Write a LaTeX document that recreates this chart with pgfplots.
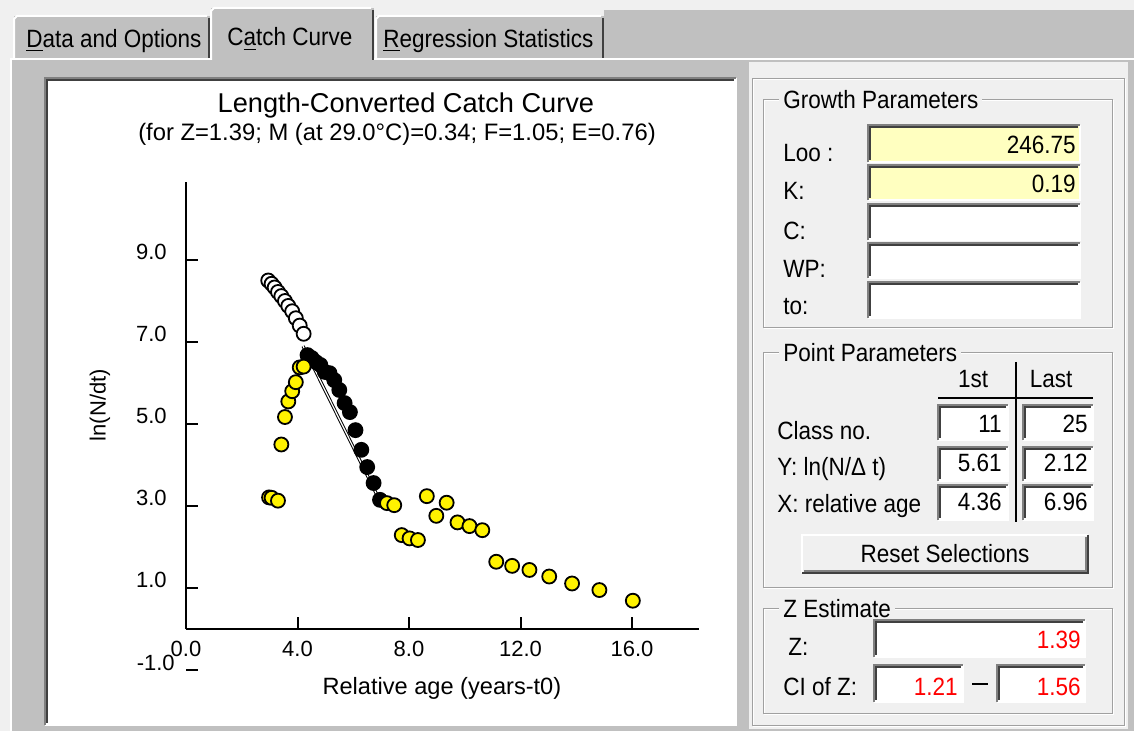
\documentclass[border=0pt]{standalone}
\usepackage{pgfplots}
\pgfplotsset{compat=1.18}
\usepackage{fontspec}
\setmainfont{Liberation Sans}
\newfontfamily\uifont[FakeStretch=0.9]{Liberation Sans}
\definecolor{wingray}{HTML}{C0C0C0}
\definecolor{winlight}{HTML}{F0F0F0}
\definecolor{fieldyellow}{HTML}{FFFFC0}
\definecolor{shadowgray}{HTML}{808080}
\definecolor{dkshadow}{HTML}{404040}
\definecolor{etchgray}{HTML}{A0A0A0}
\definecolor{winred}{HTML}{FF0000}
\newcommand\uif{\uifont\fontsize{12.5}{15}\selectfont}
\newcommand\cf{\fontsize{11}{13}\selectfont}
% sunken field: x1 y1 x2 y2 fill  (pixel units, y down)
\newcommand\sunken[5]{%
  \fill[#5] (#1,#2) rectangle (#3,#4);
  \draw[white,line width=1pt] (#1,#4) -- (#3,#4) -- (#3,#2);
  \draw[shadowgray,line width=1pt] (#1,#4) -- (#1,#2) -- (#3,#2);
  \draw[dkshadow,line width=1pt] ({#1+2},{#4-2}) -- ({#1+2},{#2+2}) -- ({#3-2},{#2+2});
}
\newcommand\raised[5]{%
  \fill[#5] (#1,#2) rectangle (#3,#4);
  \draw[white,line width=1pt] (#1,#4) -- (#1,#2) -- (#3,#2);
  \draw[dkshadow,line width=1pt] (#1,#4) -- (#3,#4) -- (#3,#2);
  \draw[shadowgray,line width=1pt] ({#1+2},{#4-2}) -- ({#3-2},{#4-2}) -- ({#3-2},{#2+2});
}
\newcommand\groupbox[5]{%
  \draw[white,line width=0.5pt] ({#1+1},{#2+1}) rectangle ({#3+1},{#4+1});
  \draw[etchgray,line width=0.5pt] (#1,#2) rectangle (#3,#4);
  \node[fill=winlight,inner xsep=2pt,inner ysep=1pt,anchor=base west,font=\uif] at ({#1+16},{#2+9}) {#5};
}
\begin{document}
\begin{tikzpicture}
\begin{scope}[x=0.5pt,y=-0.5pt]
\useasboundingbox (0,0) rectangle (1134,731);
\fill[winlight] (0,0) rectangle (1134,731);
\fill[wingray] (604,10) rectangle (1134,60);
\fill[wingray] (10,58) rectangle (1134,731);
% tabs
\fill[wingray] (14,16) rectangle (210,60);
\draw[white,line width=1pt] (14,59) -- (14,19) -- (17,16) -- (207,16);
\draw[dkshadow,line width=1pt] (209,18) -- (209,58);
\fill[wingray] (376,16) rectangle (604,60);
\draw[white,line width=1pt] (376,59) -- (376,19) -- (379,16) -- (601,16);
\draw[dkshadow,line width=1pt] (603,18) -- (603,58);
\fill[wingray] (211,8) rectangle (374,62);
\draw[white,line width=1pt] (211,60) -- (211,11) -- (214,8) -- (371,8);
\draw[dkshadow,line width=1pt] (373,10) -- (373,60);
\draw[white,line width=1pt] (11,731) -- (11,59) -- (211,59);
\draw[white,line width=1pt] (374,59) -- (1134,59);
\node[font=\uif,anchor=base west,inner sep=0pt] at (26,48) {\underline{D}ata and Options};
\node[font=\uif,anchor=base west,inner sep=0pt] at (227,46) {C\underline{a}tch Curve};
\node[font=\uif,anchor=base west,inner sep=0pt] at (383,48) {\underline{R}egression Statistics};
% chart panel
\sunken{45}{78}{736}{725}{white}
% right panel
\fill[winlight] (749,62) rectangle (1128,729);
\draw[white,line width=0.5pt] (753,80) rectangle (1125,726);
\draw[etchgray,line width=0.5pt] (752,79) rectangle (1124,725);
% Growth parameters
\groupbox{763}{100}{1112}{328}{Growth Parameters}
\node[font=\uif,anchor=base west,inner sep=0pt] at (783,162) {Loo :};
\node[font=\uif,anchor=base west,inner sep=0pt] at (783,200) {K:};
\node[font=\uif,anchor=base west,inner sep=0pt] at (783,240) {C:};
\node[font=\uif,anchor=base west,inner sep=0pt] at (783,278) {WP:};
\node[font=\uif,anchor=base west,inner sep=0pt] at (783,315) {to:};
\sunken{868}{125}{1080}{162}{fieldyellow}
\sunken{868}{165}{1080}{200}{fieldyellow}
\sunken{868}{204}{1080}{240}{white}
\sunken{868}{243}{1080}{278}{white}
\sunken{868}{282}{1080}{318}{white}
\node[font=\uif,anchor=base east,inner sep=0pt] at (1076,154) {246.75};
\node[font=\uif,anchor=base east,inner sep=0pt] at (1076,193) {0.19};
% Point parameters
\groupbox{763}{353}{1112}{587}{Point Parameters}
\node[font=\uif,anchor=base,inner sep=0pt] at (973,388) {1st};
\node[font=\uif,anchor=base,inner sep=0pt] at (1051,388) {Last};
\draw[black,line width=0.7pt] (938,398) -- (1093,398);
\draw[black,line width=0.7pt] (1016,362) -- (1016,522);
\node[font=\uif,anchor=base west,inner sep=0pt] at (777,440) {Class no.};
\node[font=\uif,anchor=base west,inner sep=0pt] at (777,476) {Y: ln(N/Δ t)};
\node[font=\uif,anchor=base west,inner sep=0pt] at (777,512) {X: relative age};
\sunken{938}{405}{1008}{440}{white}
\sunken{938}{447}{1008}{481}{white}
\sunken{938}{485}{1008}{520}{white}
\sunken{1023}{405}{1093}{440}{white}
\sunken{1023}{447}{1093}{481}{white}
\sunken{1023}{485}{1093}{520}{white}
\node[font=\uif,anchor=base east,inner sep=0pt] at (1002,433) {11};
\node[font=\uif,anchor=base east,inner sep=0pt] at (1002,472) {5.61};
\node[font=\uif,anchor=base east,inner sep=0pt] at (1002,510) {4.36};
\node[font=\uif,anchor=base east,inner sep=0pt] at (1088,433) {25};
\node[font=\uif,anchor=base east,inner sep=0pt] at (1088,472) {2.12};
\node[font=\uif,anchor=base east,inner sep=0pt] at (1088,510) {6.96};
\raised{802}{535}{1088}{573}{winlight}
\node[font=\uif,anchor=base,inner sep=0pt] at (945,562) {Reset Selections};
% Z estimate
\groupbox{763}{608}{1112}{713}{Z Estimate}
\node[font=\uif,anchor=base west,inner sep=0pt] at (788,655) {Z:};
\node[font=\uif,anchor=base west,inner sep=0pt] at (783,695) {CI of Z:};
\sunken{874}{620}{1085}{657}{white}
\sunken{874}{665}{963}{702}{white}
\sunken{997}{665}{1085}{702}{white}
\node[font=\uif,anchor=base east,inner sep=0pt,text=winred] at (1081,648) {1.39};
\node[font=\uif,anchor=base east,inner sep=0pt,text=winred] at (958,695) {1.21};
\node[font=\uif,anchor=base east,inner sep=0pt,text=winred] at (1081,695) {1.56};
\draw[black,line width=0.7pt] (972,684) -- (988,684);
\end{scope}
\begin{axis}[
  at={(93pt,-314.5pt)}, anchor=south west,
  x=13.9375pt, y=20.5pt,
  xmin=0, xmax=18.4, ymin=0, ymax=10.9,
  axis x line=bottom, axis y line=left,
  axis line style={-, line width=1.3pt, black},
  tick align=inside, major tick length=6pt,
  tick style={line width=1pt, black},
  xtick={0,4,8,12,16}, xticklabels={0.0,4.0,8.0,12.0,16.0},
  ytick={1,3,5,7,9}, yticklabels={1.0,3.0,5.0,7.0,9.0},
  tick label style={font=\cf},
  xticklabel style={anchor=north, inner sep=0pt, yshift=-6pt},
  yticklabel style={anchor=east, inner sep=0pt, xshift=-9.5pt, yshift=4pt},
  xlabel={Relative age (years-t0)},
  xlabel style={font=\fontsize{11.8}{14}\selectfont, at={(axis cs:9.18,-1.44)}, anchor=center, inner sep=0pt},
  ylabel={ln(N/dt)},
  ylabel style={font=\cf, at={(axis cs:-3.085,5.46)}, anchor=center, inner sep=0pt},
  clip=false,
]
\addplot[only marks, mark=*, mark size=3.5pt, mark options={fill=white, draw=black, line width=0.9pt}] coordinates {
(2.95,8.50) (3.07,8.42) (3.18,8.33) (3.30,8.22) (3.42,8.12) (3.55,8.00)
(3.67,7.88) (3.81,7.75) (3.94,7.58) (4.08,7.40) (4.22,7.20)};
\addplot[black, line width=0.5pt, double=white, double distance=0.6pt] coordinates {(4.20,6.90) (6.96,3.12)};
\addplot[only marks, mark=*, mark size=3.5pt, mark options={fill=black, draw=black, line width=0.9pt}] coordinates {
(4.36,6.68) (4.51,6.61) (4.66,6.51) (4.82,6.44) (4.98,6.27) (5.15,6.24)
(5.32,6.07) (5.50,5.83) (5.69,5.51) (5.88,5.29) (6.08,4.85) (6.29,4.37)
(6.50,3.95) (6.73,3.56) (6.96,3.15)};
\addplot[only marks, mark=*, mark size=3.5pt, mark options={fill=yellow, draw=black, line width=0.9pt}] coordinates {
(2.98,3.21) (3.07,3.20) (3.30,3.13) (3.42,4.50) (3.55,5.17) (3.67,5.55)
(3.81,5.80) (3.94,6.02) (4.08,6.38) (4.22,6.40)};
\addplot[only marks, mark=*, mark size=3.5pt, mark options={fill=yellow, draw=black, line width=0.9pt}] coordinates {
(7.21,3.07) (7.47,3.02) (7.74,2.29) (8.02,2.21) (8.32,2.17) (8.64,3.24)
(8.98,2.76) (9.35,3.08) (9.74,2.60) (10.17,2.51) (10.63,2.41) (11.13,1.64)
(11.70,1.54) (12.32,1.44) (13.03,1.28) (13.85,1.11) (14.83,0.95) (16.03,0.69)};
\node[font=\fontsize{13.6}{16}\selectfont, anchor=center] at (axis cs:7.89,12.78) {Length-Converted Catch Curve};
\node[font=\fontsize{11.9}{14}\selectfont, anchor=center] at (axis cs:7.57,12.07) {(for Z=1.39; M (at 29.0°C)=0.34; F=1.05; E=0.76)};
\node[font=\cf, anchor=east, inner sep=0pt] at (axis cs:-0.39,-0.83) {-1.0};
\draw[black, line width=1pt] (axis cs:0,-1) -- (axis cs:0.43,-1);
\end{axis}
\end{tikzpicture}
\end{document}
